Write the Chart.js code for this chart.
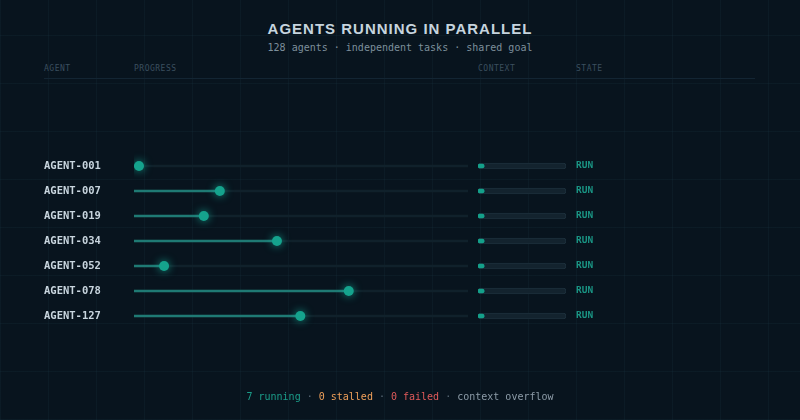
<!DOCTYPE html>
<html>
<head>
<meta charset="utf-8">
<script src="https://cdn.jsdelivr.net/npm/chart.js@4"></script>
<style>
  html, body { margin: 0; padding: 0; }
  body {
    width: 800px; height: 420px; overflow: hidden; position: relative;
    background-color: #08141e;
    background-image:
      linear-gradient(to right, rgba(40,75,95,0.12) 1px, transparent 1px),
      linear-gradient(to bottom, rgba(40,75,95,0.12) 1px, transparent 1px);
    background-size: 48px 48px;
    background-position: 0 35px;
    font-family: "DejaVu Sans Mono", monospace;
  }
  canvas.layer { position: absolute; left: 0; top: 0; }
  .title {
    position: absolute; left: 0; width: 800px; top: 20px; text-align: center;
    font-family: "Liberation Sans", Arial, sans-serif; font-weight: bold;
    font-size: 15px; letter-spacing: 1px; color: #c6d4de;
  }
  .subtitle {
    position: absolute; left: 0; width: 800px; top: 42px; text-align: center;
    font-size: 10px; color: #7d8f9b;
  }
  .hdr {
    position: absolute; top: 64px; font-size: 8px; letter-spacing: 0.5px; color: #3b4f5e;
  }
  .hline { position: absolute; left: 44px; width: 711px; top: 78px; height: 1px; background: #132533; }
  .footer {
    position: absolute; left: 0; width: 800px; top: 391px; text-align: center;
    font-size: 10px; color: #5a6b78; white-space: pre;
  }
</style>
</head>
<body>
<div class="title">AGENTS RUNNING IN PARALLEL</div>
<div class="subtitle">128 agents · independent tasks · shared goal</div>
<div class="hdr" style="left:44px">AGENT</div>
<div class="hdr" style="left:134px">PROGRESS</div>
<div class="hdr" style="left:478px">CONTEXT</div>
<div class="hdr" style="left:576px">STATE</div>
<div class="hline"></div>
<canvas id="prog" class="layer" width="800" height="420"></canvas>
<canvas id="ctx" class="layer" width="800" height="420"></canvas>
<div class="footer"><span style="color:#1b9e8a">7 running</span> · <span style="color:#f0a05a">0 stalled</span> · <span style="color:#e05a5a">0 failed</span> · <span style="color:#8d9ca8">context overflow</span></div>
<script>
const agents = ["AGENT-001", "AGENT-007", "AGENT-019", "AGENT-034", "AGENT-052", "AGENT-078", "AGENT-127"];
const progress = [1.5, 25.7, 20.9, 42.8, 9, 64.3, 49.8];
const context = [7, 7, 7, 7, 7, 7, 7];
const states = ["RUN", "RUN", "RUN", "RUN", "RUN", "RUN", "RUN"];
const fullTrack = agents.map(() => 100);

Chart.defaults.animation = false;
Chart.defaults.plugins.legend.display = false;
Chart.defaults.plugins.tooltip.enabled = false;

const glow = {
  id: 'glow',
  beforeDatasetDraw(chart, args) {
    const ds = chart.data.datasets[args.index];
    if (ds.glow) {
      chart.ctx.save();
      chart.ctx.shadowColor = 'rgba(22,190,165,0.75)';
      chart.ctx.shadowBlur = 9;
    }
  },
  afterDatasetDraw(chart, args) {
    if (chart.data.datasets[args.index].glow) chart.ctx.restore();
  }
};

new Chart(document.getElementById('prog'), {
  type: 'bar',
  data: {
    labels: agents,
    datasets: [
      { type: 'line', data: progress, indexAxis: 'y', showLine: false, glow: true,
        pointRadius: 5, pointBackgroundColor: '#15a38d', pointBorderWidth: 0, order: 0 },
      { data: progress, backgroundColor: '#1f7a74', barThickness: 2, grouped: false, order: 1 },
      { data: fullTrack, backgroundColor: '#10212b', barThickness: 2, grouped: false, order: 2 }
    ]
  },
  options: {
    indexAxis: 'y',
    responsive: false,
    layout: { padding: { left: 44, right: 332, top: 153.5, bottom: 91.5 } },
    scales: {
      x: { display: false, min: 0, max: 100 },
      y: {
        position: 'left',
        grid: { display: false, drawTicks: false },
        border: { display: false },
        afterFit(s) { s.width = 90; },
        ticks: { crossAlign: 'far', color: '#c8d5de', padding: 0,
          font: { family: 'DejaVu Sans Mono', size: 10.5, weight: 'bold' } }
      }
    }
  },
  plugins: [glow]
});

new Chart(document.getElementById('ctx'), {
  type: 'bar',
  data: {
    labels: states,
    datasets: [
      { data: context, backgroundColor: '#14a08a', barThickness: 4, borderRadius: 2,
        borderSkipped: false, grouped: false, order: 0 },
      { data: fullTrack, backgroundColor: '#13232e', borderColor: '#1c2f3b', borderWidth: 1,
        barThickness: 6, borderRadius: 3, borderSkipped: false, grouped: false, order: 1 }
    ]
  },
  options: {
    indexAxis: 'y',
    responsive: false,
    layout: { padding: { left: 478, right: 194, top: 153.5, bottom: 91.5 } },
    scales: {
      x: { display: false, min: 0, max: 100 },
      y: {
        position: 'right',
        grid: { display: false, drawTicks: false },
        border: { display: false },
        afterFit(s) { s.width = 40; },
        ticks: { crossAlign: 'near', color: '#1a9584', padding: 10,
          font: { family: 'DejaVu Sans Mono', size: 9.5, weight: 'bold' } }
      }
    }
  }
});
</script>
</body>
</html>
